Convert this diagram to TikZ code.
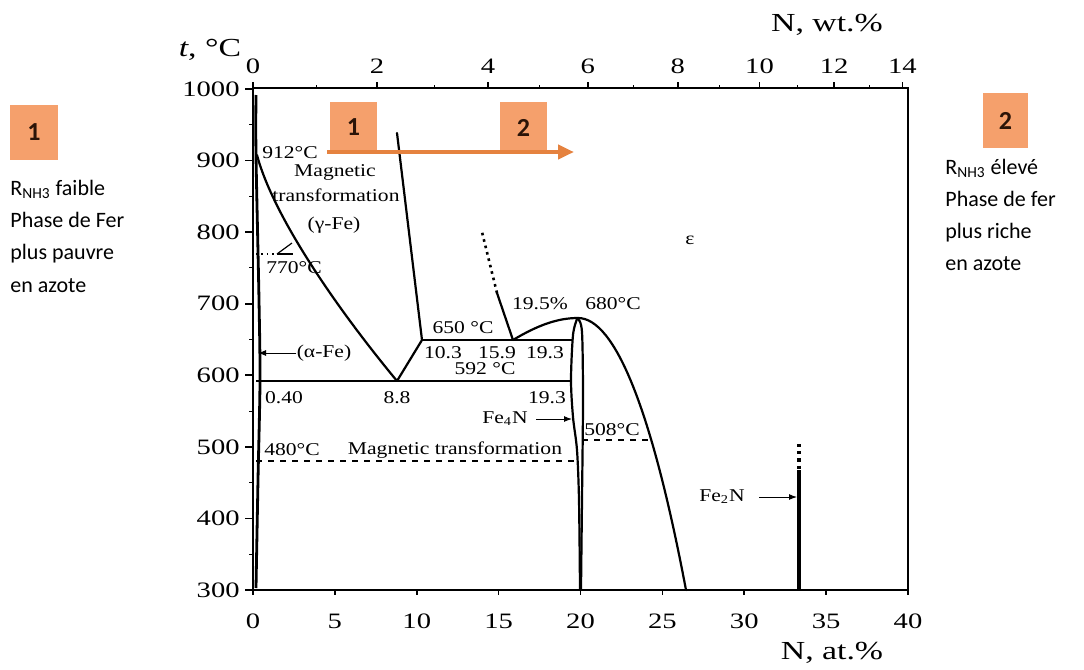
\documentclass[tikz,border=0pt]{standalone}
\usepackage{fontspec}
\setmainfont{Liberation Serif}
\newfontfamily\tnr{Liberation Serif}[FakeStretch=1.2]
\newfontfamily\tnrax{Liberation Serif}[FakeStretch=1.3]
\newfontfamily\calib{Carlito}
\usetikzlibrary{arrows.meta}
\definecolor{boxorange}{HTML}{F5A06C}
\definecolor{arroworange}{HTML}{E5823F}
\definecolor{numdark}{HTML}{2B1408}
\begin{document}
\begin{tikzpicture}[x=0.5pt,y=-0.5pt,
  ax/.style={line width=0.8pt},
  crv/.style={line width=1.1pt, line join=round, line cap=round},
  lab/.style={font=\tnr\fontsize{9}{10}\selectfont, inner sep=0pt},
  axn/.style={font=\tnrax\fontsize{11}{12}\selectfont, inner sep=0pt},
  axt/.style={font=\tnrax\fontsize{13}{14}\selectfont, inner sep=0pt},
  obox/.style={fill=boxorange, minimum width=23.5pt, minimum height=25.5pt, inner sep=0pt,
               font=\calib\bfseries\fontsize{13}{14}\selectfont, text=numdark},
  side/.style={font=\calib\fontsize{11}{13}\selectfont, inner sep=0pt, anchor=base west},
  ptr/.style={-{Latex[length=4pt,width=3pt]}, line width=0.5pt}
]
\useasboundingbox (0,0) rectangle (1084,670);
\fill[white] (0,0) rectangle (1084,670);

% ---------- frame and axes ----------
\draw[ax] (253,88) -- (908,88) -- (908,590) -- (253,590) -- cycle;

\foreach \T in {300,400,...,1000}{
  \pgfmathsetmacro\yy{590-(\T-300)*0.7157}
  \draw[ax] (245,\yy) -- (253,\yy);
  \node[axn, anchor=east] (yl\T) at (240,\yy) {\T};
}
\foreach \T in {350,450,...,950}{
  \pgfmathsetmacro\yy{590-(\T-300)*0.7157}
  \draw[line width=0.5pt] (249,\yy) -- (253,\yy);
}
\foreach \a in {0,5,...,40}{
  \pgfmathsetmacro\xx{253+16.375*\a}
  \draw[ax] (\xx,590) -- (\xx,595);
  \node[axn] (xl\a) at (\xx,621) {\a};
}
\foreach \w in {0,1,...,14}{
  \pgfmathsetmacro\aa{100*(\w/14.007)/((\w/14.007)+(100-\w)/55.845)}
  \pgfmathsetmacro\xx{253+16.5*\aa}
  \ifodd\w
    \draw[line width=0.5pt] (\xx,88) -- (\xx,85);
  \else
    \draw[ax] (\xx,88) -- (\xx,82);
    \node[axn] (wl\w) at (\xx,66) {\w};
  \fi
}
\node[axt] (tlab) at (210,50) {\textit{t}, °C};
\node[axt] (wtlab) at (827,25) {N, wt.\%};
\node[axt] (atlab) at (832,653) {N, at.\%};

% ---------- phase boundaries ----------
\draw[line width=1.4pt] plot[smooth] coordinates {(256,95) (256,155) (259,300) (260,381) (258,480) (256,588)};
\draw[crv] (257,155) .. controls (272,212) and (330,300) .. (397,381);
\draw[crv] (397,133) -- (422,340) -- (397,381);
\draw[crv] (422,340) -- (572,340);
\draw[line width=1.4pt] (256,381) -- (572,381);
\draw[crv] plot[smooth] coordinates {(577,319) (573,335) (571,380) (573,417) (577,450) (579,500) (580,590)};
\draw[crv] plot[smooth] coordinates {(578,319) (582,332) (583,400) (582,500) (581,590)};
\draw[crv] (513,340) .. controls (538,325) and (558,318) .. (578,318)
           .. controls (615,318) and (652,410) .. (686,590);
\draw[crv] (513,340) -- (497,293);
\draw[line width=1.3pt, dotted] (497,293) -- (482,232);
\draw[dashed, line width=0.7pt] (256,461) -- (575,461);
\draw[dashed, line width=0.7pt] (582,440) -- (652,440);
\draw[dotted, line width=0.7pt] (256,254) -- (277,254);
\draw[line width=0.6pt] (277,254) -- (293,254);
\draw[line width=0.6pt] (277,254) -- (292,243);
\draw[line width=1.6pt] (799,470) -- (799,590);
\draw[line width=1.6pt, dotted] (799,444) -- (799,470);

% ---------- labels ----------
\node[lab] (t912) at (290,153) {912°C};
\node[lab] (mag1) at (335,172) {Magnetic};
\node[lab] (mag2) at (336,195) {transformation};
\node[lab] (gfe) at (334,225) {(γ-Fe)};
\node[lab] (t770) at (294,268) {770°C};
\node[lab] (afe) at (324,353) {(α-Fe)};
\coordinate (afetip) at (258,353);
\draw[ptr] (afe.west) -- (afetip);
\node[lab] (t650) at (463,328) {650 °C};
\node[lab] (p195) at (540,304) {19.5\%};
\node[lab] (t680) at (613,304) {680°C};
\node[lab] (c103) at (443,353) {10.3};
\node[lab] (c159) at (497,353) {15.9};
\node[lab] (c193a) at (545,353) {19.3};
\node[lab] (t592) at (485,369) {592 °C};
\node[lab] (c040) at (284,398) {0.40};
\node[lab] (c88) at (397,398) {8.8};
\node[lab] (c193b) at (547,398) {19.3};
\node[lab] (fe4n) at (505,419) {Fe\textsubscript{4}N};
\coordinate (fe4ntip) at (572,419);
\draw[ptr, shorten <=4pt] (fe4n.east) -- (fe4ntip);
\node[lab] (t480) at (292,450) {480°C};
\node[lab] (mag3) at (455,450) {Magnetic transformation};
\node[lab] (t508) at (612,430) {508°C};
\node[lab] (eps) at (690,240) {ε};
\node[lab] (fe2n) at (722,497) {Fe\textsubscript{2}N};
\coordinate (fe2ntip) at (797,497);
\draw[ptr, shorten <=7pt] (fe2n.east) -- (fe2ntip);

% ---------- orange markers in plot ----------
\node[obox] (b1) at (353.5,127.5) {1};
\node[obox] (b2) at (523.5,127.5) {2};
\coordinate (arS) at (327,152);
\coordinate (arE) at (574,152);
\draw[arroworange, line width=2pt, -{Triangle[length=8pt,width=7pt]}] (arS) -- (arE);

% ---------- side notes ----------
\node[obox, minimum width=24pt, minimum height=27.5pt] (s1) at (34,132.5) {1};
\node[side] (l1) at (10,195) {R\textsubscript{NH3} faible};
\node[side] (l2) at (10,227) {Phase de Fer};
\node[side] (l3) at (10,259) {plus pauvre};
\node[side] (l4) at (10,292) {en azote};

\node[obox, minimum width=22.5pt, minimum height=27.5pt] (s2) at (1005.5,120.5) {2};
\node[side] (r1) at (945,174) {R\textsubscript{NH3} élevé};
\node[side] (r2) at (945,206) {Phase de fer};
\node[side] (r3) at (945,238) {plus riche};
\node[side] (r4) at (945,270) {en azote};
\end{tikzpicture}
\end{document}
